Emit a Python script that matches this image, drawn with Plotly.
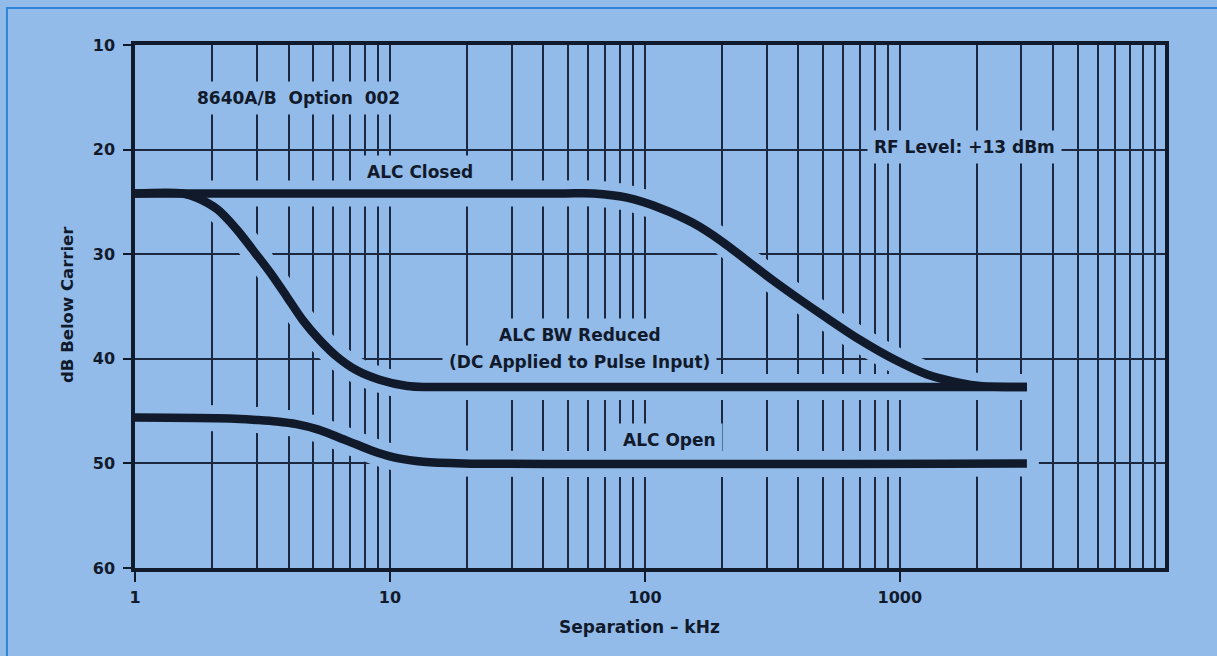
import plotly.graph_objects as go

# ---- data ----
freq_closed = [1, 46, 63, 85, 115, 154, 201, 251, 318, 398, 517, 698, 940, 1280, 1720, 2060, 3150]
db_closed = [24.2, 24.2, 24.2, 24.6, 25.6, 27.0, 28.8, 30.6, 32.5, 34.2, 36.1, 38.2, 40.0, 41.5, 42.3, 42.6, 42.7]

freq_bw = [1, 1.54, 1.75, 2.1, 2.5, 2.9, 3.4, 3.95, 4.55, 5.3, 6.2, 7.4, 9.1, 11.7, 14.4, 3150]
db_bw = [24.2, 24.2, 24.6, 25.7, 27.6, 29.6, 31.8, 34.1, 36.3, 38.2, 39.8, 41.1, 42.0, 42.6, 42.7, 42.7]

freq_open = [1, 2.36, 3.0, 3.6, 4.3, 5.2, 6.2, 7.4, 8.9, 10.7, 13.5, 19.4, 3150]
db_open = [45.6, 45.7, 45.85, 46.0, 46.25, 46.75, 47.45, 48.2, 48.95, 49.5, 49.85, 50.0, 50.0]

x_tick_vals = [1, 10, 100, 1000]
x_tick_text = ["1", "10", "100", "1000"]
y_tick_vals = [10, 20, 30, 40, 50, 60]
minor_grid = [m * d for d in [1, 10, 100, 1000] for m in range(2, 10)] + [10000]

BG = "#93bbe9"
INK = "#111a2b"
GRID = "#1c2840"
FONT = "DejaVu Sans"

series = [(freq_closed, db_closed), (freq_bw, db_bw), (freq_open, db_open)]

fig = go.Figure()
# knockout halos (break the grid around the curves)
for fx, fy in series:
    fig.add_trace(go.Scatter(x=fx, y=fy, mode="lines+markers",
                             line=dict(color=BG, width=26, shape="spline", smoothing=0.9),
                             marker=dict(color=BG, size=24),
                             hoverinfo="skip", showlegend=False))
for fx, fy in series:
    fig.add_trace(go.Scatter(x=fx, y=fy, mode="lines",
                             line=dict(color=INK, width=8.5, shape="spline", smoothing=0.9),
                             showlegend=False))

fig.update_layout(
    width=1217, height=656,
    margin=dict(l=135, r=52, t=45, b=88),
    paper_bgcolor=BG, plot_bgcolor=BG,
    font=dict(family=FONT, color=INK),
    showlegend=False,
)
fig.update_xaxes(
    type="log", range=[0, 4.04],
    tickvals=x_tick_vals, ticktext=x_tick_text,
    tickfont=dict(family=FONT, size=16, color=INK, weight="bold"),
    ticks="outside", ticklen=10, tickwidth=1.5, tickcolor=INK,
    ticklabelstandoff=2,
    showline=True, mirror=True, linewidth=3.5, linecolor=INK,
    showgrid=True, gridcolor=GRID, gridwidth=1.5,
    minor=dict(tickvals=minor_grid, showgrid=True, gridcolor=GRID, gridwidth=1.5, ticks=""),
    zeroline=False,
)
fig.update_yaxes(
    range=[60, 10],
    tickvals=y_tick_vals,
    tickfont=dict(family=FONT, size=16, color=INK, weight="bold"),
    ticks="outside", ticklen=8, tickwidth=1.5, tickcolor=INK,
    ticklabelstandoff=5,
    showline=True, mirror=True, linewidth=3.5, linecolor=INK,
    showgrid=True, gridcolor=GRID, gridwidth=1.5,
    zeroline=False,
)

def label(text, x, y, size=17):
    fig.add_annotation(text=text, x=x, y=y, xref="paper", yref="paper",
                       xanchor="center", yanchor="middle", showarrow=False,
                       font=dict(family=FONT, size=size, color=INK, weight="bold"),
                       bgcolor=BG, borderpad=6)

label("8640A/B  Option  002", 0.1583, 0.8987)
label("ALC Closed", 0.2767, 0.7572)
label("RF Level: +13 dBm", 0.8058, 0.805)
label("ALC BW Reduced", 0.432, 0.4455)
label("(DC Applied to Pulse Input)", 0.432, 0.3939)
label("ALC Open", 0.5194, 0.2447)

# axis titles
fig.add_annotation(text="Separation \u2013 kHz", x=0.490, y=-0.1128, xref="paper", yref="paper",
                   xanchor="center", yanchor="middle", showarrow=False,
                   font=dict(family=FONT, size=17, color=INK, weight="bold"))
fig.add_annotation(text="dB Below Carrier", x=-0.065, y=0.503, xref="paper", yref="paper",
                   xanchor="center", yanchor="middle", showarrow=False, textangle=-90,
                   font=dict(family=FONT, size=16.5, color=INK, weight="bold"))

# outer frame of the figure panel
fig.add_shape(type="rect", xref="paper", yref="paper",
              x0=-0.1243, y0=-0.195, x1=1.063, y1=1.0707,
              line=dict(color="#2f86d8", width=2), fillcolor="rgba(0,0,0,0)", layer="below")

fig.write_html("out.html",
               config={"displayModeBar": False},
               post_script="document.body.style.margin='0';document.body.style.overflow='hidden';"
                           "document.body.style.background='" + BG + "';")
